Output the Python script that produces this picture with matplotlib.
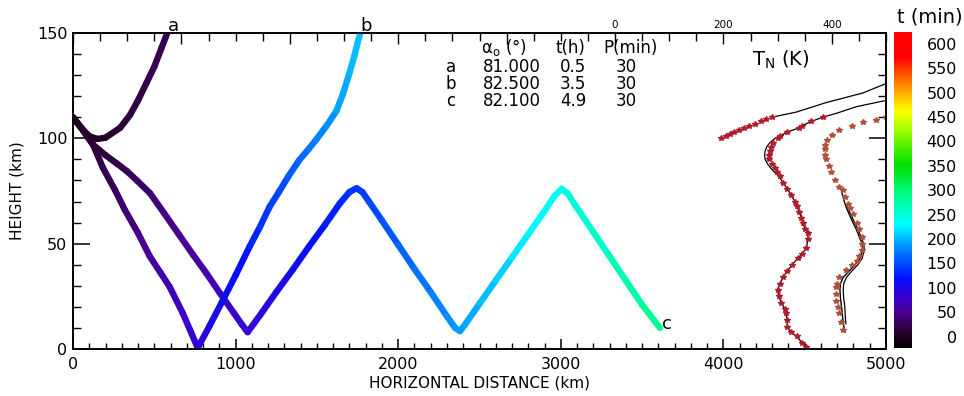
import numpy as np
import matplotlib
matplotlib.use("Agg")
import matplotlib.pyplot as plt
from matplotlib.collections import LineCollection
from matplotlib.colors import LinearSegmentedColormap, Normalize
from matplotlib.ticker import MultipleLocator, FuncFormatter
import matplotlib.transforms as mtransforms

# ---- ray paths: horizontal distance (km), height (km), time along ray (min) ----
ray_a_x = [0, 50, 100, 150, 200, 290, 350, 400, 450, 500, 545, 580]
ray_a_h = [110, 105, 101, 99.7, 100.3, 105, 111, 118, 126, 134, 143, 150]
ray_a_t = [0, 2.6, 5.1, 7.8, 10.3, 14.9, 18.1, 20.8, 23.5, 26.2, 28.4, 30]

ray_b_x = [0, 60, 123, 184, 258, 319, 400, 472, 540, 595, 675, 720, 767, 840, 914,
           1000, 1086, 1150, 1209, 1270, 1325, 1390, 1450, 1497, 1560, 1620, 1660,
           1700, 1730, 1749, 1767]
ray_b_h = [110, 104, 97, 86, 75.5, 66, 55, 44, 36, 29.4, 17, 9, 0.5, 11, 22,
           35, 48.6, 58, 67.5, 75, 82, 89.5, 95, 99.5, 106, 113, 121,
           131, 139, 145, 150]
ray_b_t = [0, 7, 15, 22, 31, 38, 48, 56, 64, 71, 80, 86, 91, 100, 109,
           119, 129, 137, 144, 151, 157, 165, 172, 178, 185, 193, 197,
           202, 206, 208, 210]

ray_c_x = [0, 60, 123, 200, 270, 330, 393, 473, 560, 650, 736, 820, 902, 990, 1040,
           1074, 1150, 1250, 1350, 1450, 1550, 1640, 1700, 1744, 1780, 1820, 1900,
           2000, 2100, 2200, 2300, 2350, 2380, 2410, 2500, 2600, 2700, 2800, 2900,
           2960, 3005, 3040, 3100, 3200, 3300, 3400, 3500, 3610]
ray_c_h = [110, 104, 97, 92, 88, 84.5, 80, 74, 64.5, 54.5, 45, 36, 26.7, 17, 11.5,
           8, 16, 27, 37.5, 48.5, 59, 69, 74.5, 76.3, 74.5, 70, 61,
           49.5, 38, 27, 15.5, 10, 8.5, 11.5, 21.5, 32.5, 43.5, 54.5, 65.5,
           72.5, 76, 74, 67, 55.5, 44, 32.5, 21, 10]
ray_c_t = [0, 5, 10, 16, 22, 27, 32, 38, 45, 53, 60, 66, 73, 80, 84,
           87, 93, 101, 109, 117, 126, 133, 138, 141, 144, 147, 154,
           162, 170, 178, 186, 190, 193, 195, 203, 211, 219, 227, 235,
           240, 243, 246, 251, 259, 267, 275, 284, 294]

# ---- temperature profiles T_N (K) vs height (km) ----
profA_line_T = [289, 335, 390, 457, 500]
profA_line_h = [110, 112.5, 117, 121.5, 126]
profA_dot_T = [289, 279, 270, 258, 248, 238, 228, 220, 213, 205, 196]
profA_dot_h = [110, 109, 108, 107, 106, 105, 104, 103, 102, 101, 100]

profB_dot_h = [1, 3, 6, 8, 10.5, 14, 17, 19, 22, 25, 28, 31, 34, 37, 40, 43, 45, 48,
               52, 55, 57, 60, 62, 65, 68, 70, 73, 76, 79, 82, 84, 86, 88, 90, 92,
               94, 96, 98, 100, 101, 103, 105, 106, 108, 110]
profB_dot_T = [353, 345, 335, 325, 318, 317, 316, 313, 307, 302, 300, 304, 310, 318,
               327, 337, 345, 353, 356, 356, 351, 346, 344, 340, 335, 332, 325, 318,
               310, 304, 299, 295, 290, 285, 284, 286, 288, 292, 300, 305, 318, 340,
               345, 362, 383]
profB_line_h = [1, 3, 6, 8, 10.5, 14, 17, 19, 22, 25, 28, 31, 34, 37, 40, 43, 45, 48,
                52, 55, 57, 60, 62, 65, 68, 70, 73, 76, 79, 82, 84, 86, 88, 90, 92,
                94, 96, 98, 100, 101, 103, 105, 106, 108, 110, 112, 115, 118]
profB_line_T = [353, 345, 335, 325, 318, 317, 316, 313, 307, 302, 300, 304, 310, 318,
                327, 337, 345, 353, 356, 356, 351, 346, 344, 340, 335, 332, 325, 318,
                310, 302, 294, 287, 281, 277, 276, 277, 280, 286, 295, 303, 318, 340,
                345, 362, 383, 410, 445, 500]

profC_dot_h = [9, 13, 17, 20, 23, 26, 29.5, 31, 34, 37.5, 40, 42, 44, 47, 50, 53, 57,
               60, 64, 67, 69, 72, 75.5, 77, 80, 84, 87, 90, 92, 95, 97, 99, 101.5,
               104, 106, 107.7, 108.7, 110]
profC_dot_T = [420, 417, 414, 411, 408, 407, 408, 409, 414, 427, 438, 446, 451, 455,
               456, 455, 451, 446, 440, 433, 429, 425, 420, 414, 405, 398, 394, 390,
               387.5, 387, 388, 392, 400, 414, 437, 457, 482, 500]
profC_line1_h = [8, 11, 15, 20, 24, 28, 31, 34, 37, 40, 43, 47, 50, 53, 57, 60, 64,
                 67, 70, 74, 76]
profC_line1_T = [424, 422, 420, 418, 416, 415, 416, 421, 432, 443, 452, 457, 456,
                 451, 445, 439, 432, 427, 423, 419, 417]
profC_line2_h = [12, 15, 20, 24, 28, 31, 34, 37, 40, 43, 47, 50, 53, 57, 60, 64, 68]
profC_line2_T = [426, 425, 424, 422, 421, 422, 427, 437, 448, 456, 460, 459, 454,
                 448, 442, 435, 428]

table_header = ["\u03b1$_\\mathregular{o}$ (\u00b0)", "t(h)", "P(min)"]
table_rows = [["a", "81.000", "0.5", "30"],
              ["b", "82.500", "3.5", "30"],
              ["c", "82.100", "4.9", "30"]]

cbar_ticks = list(range(0, 601, 50))

# colour table: black -> purple -> blue -> cyan -> green -> yellow -> red
cmap = LinearSegmentedColormap.from_list("rainbow_idl", [
    (0.00, "#000000"), (0.05, "#2a0030"), (0.11, "#4a0090"), (0.16, "#3a00d0"),
    (0.22, "#0010ff"), (0.32, "#0090ff"), (0.39, "#00ffff"), (0.48, "#00ff90"),
    (0.58, "#00e000"), (0.69, "#a0ff00"), (0.75, "#ffff00"), (0.84, "#ff8000"),
    (0.92, "#ff0000"), (1.00, "#ff0000")])
norm = Normalize(-20, 627)

plt.rcParams['font.family'] = ['DejaVu Sans']

fig = plt.figure(figsize=(9.64, 3.96), dpi=100)
ax = fig.add_axes([73 / 964, 47 / 396, 813 / 964, 316 / 396])


def draw_ray(xs, hs, ts):
    pts = np.column_stack([xs, hs])
    segs = np.stack([pts[:-1], pts[1:]], axis=1)
    tmid = 0.5 * (np.array(ts[:-1]) + np.array(ts[1:]))
    lc = LineCollection(segs, colors=cmap(norm(tmid)), linewidths=4.6,
                        capstyle='round', joinstyle='round', zorder=3)
    ax.add_collection(lc)


draw_ray(ray_a_x, ray_a_h, ray_a_t)
draw_ray(ray_c_x, ray_c_h, ray_c_t)
draw_ray(ray_b_x, ray_b_h, ray_b_t)

ax.set_xlim(0, 5000)
ax.set_ylim(0, 150)
ax.xaxis.set_major_locator(MultipleLocator(1000))
ax.xaxis.set_minor_locator(MultipleLocator(100))
ax.yaxis.set_major_locator(MultipleLocator(50))
ax.yaxis.set_minor_locator(MultipleLocator(10))
ax.tick_params(axis='x', which='major', direction='in', length=7, width=1.1,
               labelsize=11.5, pad=6, top=False)
ax.tick_params(axis='x', which='minor', direction='in', length=4, width=1,
               top=False)
ax.tick_params(axis='y', which='major', direction='in', length=12, width=1.1,
               labelsize=11.5, pad=4, right=True)
ax.tick_params(axis='y', which='minor', direction='in', length=6, width=1,
               right=True)
for s in ax.spines.values():
    s.set_linewidth(1.2)

ax.set_xlabel("HORIZONTAL DISTANCE (km)", fontsize=11)
ax.xaxis.set_label_coords(0.5, -0.085)
ax.set_ylabel("HEIGHT (km)", fontsize=11)
ax.yaxis.set_label_coords(-0.06, 0.5)

# ray labels
ax.text(583, 149, "a", fontsize=13, ha='left', va='bottom', clip_on=False)
ax.text(1767, 149, "b", fontsize=13, ha='left', va='bottom', clip_on=False)
ax.text(3625, 12, "c", fontsize=13, ha='left', va='center')

# parameter table
col_x = [2325, 2700, 3075, 3401]
head_x = [2651, 3057, 3426]
row_y = [133.8, 125.8, 117.7]
for hx, txt in zip(head_x, table_header):
    ax.text(hx, 142.9, txt, fontsize=12, ha='center', va='center')
for ry, row in zip(row_y, table_rows):
    for cx, txt in zip(col_x, row):
        ax.text(cx, ry, txt, fontsize=12, ha='center', va='center')

# temperature profiles on the top axis
ax2 = ax.twiny()
ax2.set_xlim(-1000, 500)
ax2.xaxis.set_major_locator(MultipleLocator(200))
ax2.xaxis.set_minor_locator(MultipleLocator(50))
ax2.xaxis.set_major_formatter(FuncFormatter(lambda v, p: f"{v:.0f}" if v >= 0 else ""))
ax2.tick_params(axis='x', which='major', direction='in', length=8, width=1,
                labelsize=7.5, pad=2)
ax2.tick_params(axis='x', which='minor', direction='in', length=6, width=1)
for s in ax2.spines.values():
    s.set_linewidth(1.2)

ax2.plot(profA_line_T, profA_line_h, color='black', lw=0.9)
ax2.plot(profB_line_T, profB_line_h, color='black', lw=0.9)
ax2.plot(profC_line1_T, profC_line1_h, color='black', lw=1.0)
ax2.plot(profC_line2_T, profC_line2_h, color='black', lw=0.9)
ax2.plot(profA_dot_T, profA_dot_h, ls='none', marker='*', ms=4, color='#b01c2c')
ax2.plot(profB_dot_T, profB_dot_h, ls='none', marker='*', ms=4, color='#b01c2c')
ax2.plot(profC_dot_T, profC_dot_h, ls='none', marker='*', ms=4, color='#b0503a')
ax.text(4354, 137.2, "T$_\\mathregular{N}$ (K)", fontsize=14, ha='center', va='center')

# colour bar
cax = fig.add_axes([894 / 964, 48 / 396, 17 / 964, 316 / 396])
grad = np.linspace(-20, 627, 256).reshape(-1, 1)
cax.imshow(grad, aspect='auto', origin='lower', cmap=cmap, norm=norm,
           extent=[0, 1, -20, 627])
cax.set_xticks([])
cax.set_yticks([])
for s in cax.spines.values():
    s.set_visible(False)
trans = mtransforms.blended_transform_factory(fig.transFigure, cax.transData)
for v in cbar_ticks:
    cax.text(957 / 964, v, str(v), transform=trans, fontsize=11.5,
             ha='right', va='center')
fig.text(930 / 964, 1 - 17 / 396, "t (min)", fontsize=14, ha='center', va='center')

fig.savefig("out.png", dpi=100)
